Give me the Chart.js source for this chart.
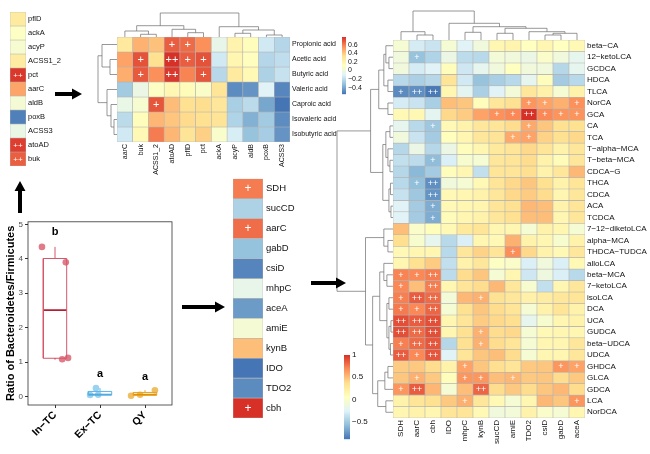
<!DOCTYPE html>
<html>
<head>
<meta charset="utf-8">
<script src="https://cdn.jsdelivr.net/npm/chart.js@4.4.1/dist/chart.umd.min.js"></script>
<style>
    body { margin: 0; width: 650px; height: 454px; position: relative; overflow: hidden; background: #fff; }
    canvas, svg { position: absolute; }
</style>
</head>
<body>
<canvas id="scfaGenes" width="80" height="190" style="left:0;top:0"></canvas>
<canvas id="scfaHeat" width="280" height="180" style="left:85px;top:5px"></canvas>
<canvas id="ratioBox" width="180" height="239" style="left:0;top:215px"></canvas>
<canvas id="baGenes" width="90" height="270" style="left:225px;top:170px"></canvas>
<canvas id="baHeat" width="320" height="454" style="left:330px;top:0"></canvas>
<svg id="arrows" width="650" height="454" style="left:0;top:0"></svg>
<script>

const FONT = '"Liberation Sans", Arial, sans-serif';

// ---- left column: SCFA genes
const SCFA_GENES = [ 'pflD', 'ackA', 'acyP', 'ACSS1_2', 'pct', 'aarC', 'aldB', 'poxB', 'ACSS3', 'atoAD', 'buk' ];
const SCFA_GENE_VALUES = [ 0.22, -0.03, -0.1, 0.2, 0.97, 0.57, -0.12, -0.95, -0.22, 0.95, 0.83 ];
const SCFA_GENE_SIG = [ [ 'pct', '', '++' ], [ 'atoAD', '', '++' ], [ 'buk', '', '++' ] ];

// ---- top heatmap: SCFA x genes
const ACIDS = [ 'Propionic acid', 'Acetic acid', 'Butyric acid', 'Valeric acid', 'Caproic acid', 'Isovaleric acid', 'Isobutyric acid' ];
const ACID_GENES = [ 'aarC', 'buk', 'ACSS1_2', 'atoAD', 'pflD', 'pct', 'ackA', 'acyP', 'aldB', 'poxB', 'ACSS3' ];
const ACID_CORR = [
    [ 0.27, 0.46, 0.42, 0.67, 0.64, 0.55, -0.05, 0.2, 0.13, -0.15, -0.23 ],
    [ 0.5, 0.7, 0.33, 0.78, 0.67, 0.7, -0.15, 0.18, 0.12, -0.23, -0.2 ],
    [ 0.47, 0.68, 0.55, 0.76, 0.58, 0.69, -0.22, 0.26, 0.16, -0.25, -0.18 ],
    [ -0.28, -0.03, 0.1, 0.17, 0.14, 0.08, 0.3, -0.48, -0.46, -0.1, -0.5 ],
    [ -0.04, 0.05, 0.69, 0.43, 0.33, 0.34, 0.29, -0.26, -0.21, -0.4, -0.55 ],
    [ -0.21, 0.13, 0.45, 0.41, 0.35, 0.33, 0.31, -0.24, -0.37, -0.28, -0.48 ],
    [ -0.15, 0.16, 0.6, 0.45, 0.31, 0.38, 0.07, -0.13, -0.31, -0.27, -0.46 ]
];
const ACID_SIG = [
    [ 'Propionic acid', 'atoAD', '+' ], [ 'Propionic acid', 'pflD', '+' ],
    [ 'Acetic acid', 'buk', '+' ], [ 'Acetic acid', 'atoAD', '++' ], [ 'Acetic acid', 'pflD', '+' ], [ 'Acetic acid', 'pct', '+' ],
    [ 'Butyric acid', 'buk', '+' ], [ 'Butyric acid', 'atoAD', '++' ], [ 'Butyric acid', 'pct', '+' ],
    [ 'Caproic acid', 'ACSS1_2', '+' ]
];
// trees: [ left, right, height ], leaves are indices
const ACID_ROW_TREE = [ [ 0, [ 1, 2, 7 ], 15 ], [ 3, [ 4, [ 5, 6, 3 ], 6 ], 10 ], 19 ];
const ACID_COL_TREE = [ [ [ 0, [ 1, 2, 2.7 ], 6 ], [ 3, [ 4, 5, 4.3 ], 7.7 ], 11.3 ], [ 6, [ [ 7, 8, 3.7 ], [ 9, 10, 2 ], 7 ], 10.3 ], 24 ];
const ACID_LEGEND_TICKS = [ 0.6, 0.4, 0.2, 0, -0.2, -0.4 ];

// ---- box plot
const GROUPS = [ 'In−TC', 'Ex−TC', 'QY' ];
const RATIO = [ [ 4.35, 3.9, 1.08, 1.12 ], [ 0.24, 0.04, 0.05 ], [ 0.02, 0.05, 0.18 ] ];
const RATIO_X = [ [ 0.71, 1.24, 1.16, 1.29 ], [ 1.91, 1.78, 1.96 ], [ 2.69, 2.89, 3.22 ] ];
const LETTERS = [ 'b', 'a', 'a' ];
const LETTER_Y = [ 4.77, 0.65, 0.56 ];
const RATIO_TICKS = [ 0, 1, 2, 3, 4, 5 ];

// ---- middle column: bile-acid genes
const BA_GENES_COL = [ 'SDH', 'sucCD', 'aarC', 'gabD', 'csiD', 'mhpC', 'aceA', 'amiE', 'kynB', 'IDO', 'TDO2', 'cbh' ];
const BA_GENE_VALUES = [ 0.73, -0.55, 0.78, -0.65, -0.93, -0.25, -0.83, -0.12, 0.47, -1, -0.9, 1 ];
const BA_GENE_SIG = [ [ 'SDH', '', '+' ], [ 'aarC', '', '+' ], [ 'cbh', '', '+' ] ];

// ---- right heatmap: bile acids x genes
const BILE_ACIDS = [ 'beta−CA', '12−ketoLCA', 'GCDCA', 'HDCA', 'TLCA', 'NorCA', 'GCA', 'CA', 'TCA', 'T−alpha−MCA',
    'T−beta−MCA', 'CDCA−G', 'THCA', 'CDCA', 'ACA', 'TCDCA', '7−12−diketoLCA', 'alpha−MCA', 'THDCA−TUDCA', 'alloLCA',
    'beta−MCA', '7−ketoLCA', 'isoLCA', 'DCA', 'UCA', 'GUDCA', 'beta−UDCA', 'UDCA', 'GHDCA', 'GLCA', 'GDCA', 'LCA', 'NorDCA' ];
const BA_GENES = [ 'SDH', 'aarC', 'cbh', 'IDO', 'mhpC', 'kynB', 'sucCD', 'amiE', 'TDO2', 'csiD', 'gabD', 'aceA' ];
const BA_CORR = [
    [ -0.05, -0.3, -0.35, -0.05, -0.25, -0.1, 0.15, 0.17, 0.05, 0.15, 0.05, 0.12 ],
    [ -0.1, -0.55, -0.45, -0.15, -0.4, -0.42, -0.08, -0.1, -0.15, 0, -0.1, -0.2 ],
    [ -0.1, -0.3, -0.25, 0.08, -0.33, -0.2, -0.1, 0.05, -0.1, -0.1, -0.43, -0.2 ],
    [ -0.42, -0.47, -0.43, 0.33, -0.32, -0.55, -0.48, -0.42, -0.2, 0.08, -0.5, -0.42 ],
    [ -0.8, -0.78, -0.87, 0.15, -0.22, -0.47, -0.25, -0.08, 0.3, 0.2, -0.05, 0.18 ],
    [ -0.3, -0.35, -0.48, 0.5, 0.47, 0.08, 0.3, 0.35, 0.65, 0.6, 0.55, 0.67 ],
    [ 0.12, 0.13, -0.22, 0.4, 0.45, 0.6, 0.67, 0.7, 1.0, 0.7, 0.66, 0.66 ],
    [ -0.2, -0.42, -0.52, 0.12, 0.18, 0.3, 0.32, 0.38, 0.58, 0.47, 0.36, 0.36 ],
    [ -0.1, -0.35, -0.5, 0.07, 0.15, 0.3, 0.33, 0.58, 0.6, 0.42, 0.36, 0.4 ],
    [ -0.43, -0.15, -0.43, -0.15, 0.08, 0.15, 0.28, 0.32, 0.4, 0.32, 0.18, 0.3 ],
    [ -0.38, -0.4, -0.58, -0.28, -0.03, -0.05, 0.3, 0.32, 0.38, 0.18, 0.1, 0.3 ],
    [ -0.43, -0.6, -0.5, 0.08, 0.15, -0.38, 0.32, 0.32, 0.37, 0.18, 0.3, 0.52 ],
    [ -0.42, -0.57, -0.78, -0.1, -0.05, 0.12, 0.32, 0.4, 0.47, 0.36, 0.18, 0.32 ],
    [ -0.36, -0.52, -0.76, 0.12, 0.15, 0.18, 0.3, 0.4, 0.45, 0.38, 0.15, 0.3 ],
    [ -0.25, -0.5, -0.65, 0.12, 0.15, 0.16, 0.32, 0.36, 0.52, 0.5, 0.18, 0.32 ],
    [ -0.25, -0.5, -0.65, 0.1, 0.15, 0.18, 0.3, 0.36, 0.5, 0.5, 0.15, 0.3 ],
    [ 0.5, 0, 0.08, 0.12, 0.28, 0.32, 0.15, 0.15, -0.05, 0.18, 0.15, -0.05 ],
    [ 0.37, -0.03, -0.2, -0.42, -0.28, 0.15, 0.12, 0.55, 0.18, 0.15, -0.03, 0.18 ],
    [ 0.12, 0.15, 0.15, -0.42, 0.3, 0.42, 0.32, 0.68, 0.4, 0.18, 0.12, 0.3 ],
    [ 0.15, 0.36, 0.45, -0.38, 0.18, 0.3, 0.03, 0, -0.28, -0.1, -0.28, 0.12 ],
    [ 0.72, 0.7, 0.74, -0.4, 0.38, 0.47, -0.05, 0.15, -0.33, -0.12, -0.28, -0.42 ],
    [ 0.7, 0.5, 0.74, 0.15, 0.32, 0.38, 0.52, 0.3, -0.03, -0.38, 0.15, 0.3 ],
    [ 0.73, 0.85, 0.8, -0.08, 0.52, 0.55, 0.35, 0.3, 0.2, 0.25, 0.3, 0.32 ],
    [ 0.75, 0.7, 0.82, -0.05, 0.36, 0.47, 0.38, 0.32, -0.05, 0.18, 0.32, 0.18 ],
    [ 0.9, 0.85, 0.9, 0.15, 0.32, 0.45, 0.4, 0.37, -0.2, -0.03, 0.15, 0.18 ],
    [ 0.9, 0.8, 0.9, 0.15, 0.36, 0.55, 0.38, 0.4, -0.05, 0.12, 0.15, 0.15 ],
    [ 0.73, 0.8, 0.87, -0.43, 0.36, 0.55, 0.38, 0.32, -0.05, 0.15, 0.15, 0.3 ],
    [ 0.85, 0.7, 0.87, -0.25, 0.32, 0.47, 0.5, 0.38, -0.05, 0.15, 0.15, 0.3 ],
    [ 0.45, 0.46, 0.38, 0.18, 0.6, 0.47, 0.37, 0.32, 0.46, 0.47, 0.65, 0.6 ],
    [ 0.47, 0.55, 0.46, 0.08, 0.65, 0.65, 0.5, 0.53, 0.46, 0.47, 0.38, 0.46 ],
    [ 0.65, 0.85, 0.53, -0.05, 0.5, 0.82, 0.38, 0.46, 0.38, 0.47, 0.52, 0.38 ],
    [ 0.18, 0.32, 0.36, 0.46, 0.55, 0.3, 0.12, -0.05, 0.15, 0.52, 0.47, 0.65 ],
    [ 0.15, 0.18, 0.15, 0.32, 0.32, 0.12, -0.1, -0.08, 0.18, 0, -0.05, 0.15 ]
];
const BA_SIG = [
    [ '12−ketoLCA', 'aarC', '+' ],
    [ 'TLCA', 'SDH', '+' ], [ 'TLCA', 'aarC', '++' ], [ 'TLCA', 'cbh', '++' ],
    [ 'NorCA', 'TDO2', '+' ], [ 'NorCA', 'csiD', '+' ], [ 'NorCA', 'aceA', '+' ],
    [ 'GCA', 'sucCD', '+' ], [ 'GCA', 'amiE', '+' ], [ 'GCA', 'TDO2', '++' ], [ 'GCA', 'csiD', '+' ], [ 'GCA', 'gabD', '+' ], [ 'GCA', 'aceA', '+' ],
    [ 'CA', 'cbh', '+' ], [ 'CA', 'TDO2', '+' ],
    [ 'TCA', 'amiE', '+' ], [ 'TCA', 'TDO2', '+' ],
    [ 'T−beta−MCA', 'cbh', '+' ],
    [ 'THCA', 'aarC', '+' ], [ 'THCA', 'cbh', '++' ],
    [ 'CDCA', 'cbh', '++' ], [ 'ACA', 'cbh', '+' ], [ 'TCDCA', 'cbh', '+' ],
    [ 'THDCA−TUDCA', 'amiE', '+' ],
    [ 'beta−MCA', 'SDH', '+' ], [ 'beta−MCA', 'aarC', '+' ], [ 'beta−MCA', 'cbh', '++' ],
    [ '7−ketoLCA', 'SDH', '+' ], [ '7−ketoLCA', 'cbh', '++' ],
    [ 'isoLCA', 'SDH', '+' ], [ 'isoLCA', 'aarC', '++' ], [ 'isoLCA', 'cbh', '++' ], [ 'isoLCA', 'kynB', '+' ],
    [ 'DCA', 'SDH', '+' ], [ 'DCA', 'aarC', '+' ], [ 'DCA', 'cbh', '++' ],
    [ 'UCA', 'SDH', '++' ], [ 'UCA', 'aarC', '++' ], [ 'UCA', 'cbh', '++' ],
    [ 'GUDCA', 'SDH', '++' ], [ 'GUDCA', 'aarC', '++' ], [ 'GUDCA', 'cbh', '++' ], [ 'GUDCA', 'kynB', '+' ],
    [ 'beta−UDCA', 'SDH', '+' ], [ 'beta−UDCA', 'aarC', '++' ], [ 'beta−UDCA', 'cbh', '++' ], [ 'beta−UDCA', 'kynB', '+' ],
    [ 'UDCA', 'SDH', '++' ], [ 'UDCA', 'aarC', '+' ], [ 'UDCA', 'cbh', '++' ],
    [ 'GHDCA', 'mhpC', '+' ], [ 'GHDCA', 'gabD', '+' ], [ 'GHDCA', 'aceA', '+' ],
    [ 'GLCA', 'aarC', '+' ], [ 'GLCA', 'mhpC', '+' ], [ 'GLCA', 'kynB', '+' ], [ 'GLCA', 'amiE', '+' ],
    [ 'GDCA', 'SDH', '+' ], [ 'GDCA', 'aarC', '++' ], [ 'GDCA', 'kynB', '++' ],
    [ 'LCA', 'mhpC', '+' ], [ 'LCA', 'aceA', '+' ]
];
const BA_COL_TREE = [ [ 0, [ 1, 2, 5 ], 8.3 ],
    [ 3, [ [ 4, 5, 7.7 ], [ [ 6, 7, 6.7 ], [ 8, [ [ 9, 10, 5 ], 11, 6.7 ], 8.3 ], 11.7 ], 13.3 ], 16.7 ], 29 ];
const BA_ROW_TREE = [
    [ [ [ [ 0, [ 1, 2, 4 ], 7 ], [ 3, 4, 5 ], 9 ], [ 5, 6, 5 ], 14 ],
      [ [ [ 7, 8, 3 ], [ 9, [ 10, 11, 3 ], 5 ], 7 ], [ [ 12, 13, 2.5 ], [ 14, 15, 2 ], 4 ], 10 ], 22 ],
    [ [ 16, [ 17, 18, 5 ], 9 ],
      [ [ [ 19, [ 20, 21, 6 ], 9 ], [ [ 22, 23, 4 ], [ [ 24, 25, 2 ], [ 26, 27, 2.5 ], 4 ], 6 ], 13 ],
        [ [ [ 28, 29, 5 ], 30, 8 ], [ 31, 32, 7 ], 15 ], 20 ], 27 ],
    55 ];
const BA_LEGEND_TICKS = [ 1, 0.5, 0, -0.5 ];

const PALETTE = [ '#4575b4', '#91bfdb', '#e0f3f8', '#ffffbf', '#fee090', '#fc8d59', '#d73027' ];

/**
 * Maps a value onto the reversed RdYlBu ramp between lo and hi.
 */
function heatColor ( v, lo, hi ) {

    let t = Math.max( 0, Math.min( 1, ( v - lo ) / ( hi - lo ) ) ) * ( PALETTE.length - 1 );
    const i = Math.min( Math.floor( t ), PALETTE.length - 2 ), f = t - i;
    const rgb = h => [ 1, 3, 5 ].map( k => parseInt( h.substr( k, 2 ), 16 ) );
    const a = rgb( PALETTE[ i ] ), b = rgb( PALETTE[ i + 1 ] );

    return `rgb(${ a.map( ( c, k ) => Math.round( c + ( b[ k ] - c ) * f ) ).join( ',' ) })`;

}

/**
 * Draws a dendrogram recursively, returns the node position and height.
 */
function drawTree ( ctx, node, leafPos, hPx, alongX ) {

    if ( typeof node === 'number' ) return { pos: leafPos( node ), h: 0 };

    const a = drawTree( ctx, node[ 0 ], leafPos, hPx, alongX ),
          b = drawTree( ctx, node[ 1 ], leafPos, hPx, alongX ),
          h = node[ 2 ];

    const pt = ( p, hh ) => alongX ? [ p, hPx( hh ) ] : [ hPx( hh ), p ];

    ctx.beginPath();
    ctx.moveTo( ...pt( a.pos, a.h ) );
    ctx.lineTo( ...pt( a.pos, h ) );
    ctx.lineTo( ...pt( b.pos, h ) );
    ctx.lineTo( ...pt( b.pos, b.h ) );
    ctx.stroke();

    return { pos: ( a.pos + b.pos ) / 2, h };

}

// Significance marks, dendrograms and colour key
const heatExtras = {
    id: 'heatExtras',
    afterDatasetsDraw ( chart, args, o ) {

        const { ctx, chartArea: area, scales: { x, y } } = chart;

        ctx.save();

        ctx.fillStyle = '#fff';
        ctx.font = o.signFont;
        ctx.textAlign = 'center';
        ctx.textBaseline = 'middle';

        o.sig.forEach( ( [ r, c, s ] ) => {
            const i = o.rows.indexOf( r ), j = o.cols.indexOf( c );
            ctx.fillText( s, x.getPixelForValue( j ), y.getPixelForValue( i + 0.5 ) + 0.5 );
        } );

        ctx.strokeStyle = '#6b6b6b';
        ctx.lineWidth = 0.7;

        if ( o.colTree ) {
            const k = o.colTreeSize / o.colTree[ 2 ];
            drawTree( ctx, o.colTree, j => x.getPixelForValue( j ), h => area.top - h * k, true );
        }

        if ( o.rowTree ) {
            const k = o.rowTreeSize / o.rowTree[ 2 ];
            drawTree( ctx, o.rowTree, i => y.getPixelForValue( i + 0.5 ), h => area.left - h * k, false );
        }

        if ( o.legend ) {

            const L = o.legend;

            for ( let k = 0; k < L.h; k++ )
            {
                ctx.fillStyle = heatColor( L.hi - ( k + 0.5 ) / L.h * ( L.hi - L.lo ), L.lo, L.hi );
                ctx.fillRect( L.x, L.y + k, L.w, 1.2 );
            }

            ctx.fillStyle = '#111';
            ctx.font = L.font;
            ctx.textAlign = 'left';

            L.ticks.forEach( v => ctx.fillText(
                String( v ).replace( '-', '−' ),
                L.x + L.w + 2,
                L.y + ( L.hi - v ) / ( L.hi - L.lo ) * L.h
            ) );

        }

        ctx.restore();

    }
};

/**
 * Renders a heatmap as floating bars, one dataset per row.
 */
function renderHeatmap ( id, o ) {

    const canvas = document.getElementById( id ),
          W = canvas.width, H = canvas.height,
          n = o.rows.length;

    return new Chart( canvas, {
        type: 'bar',
        data: {
            labels: o.cols,
            datasets: o.rows.map( ( r, i ) => ( {
                label: r,
                data: o.values[ i ].map( () => [ i, i + 1 ] ),
                backgroundColor: o.values[ i ].map( v => heatColor( v, o.lo, o.hi ) ),
                borderColor: '#b4b4b4',
                borderWidth: 0.6,
                borderSkipped: false,
                grouped: false,
                barPercentage: 1,
                categoryPercentage: 1
            } ) )
        },
        options: {
            responsive: false,
            animation: false,
            events: [],
            layout: { padding: {
                left: o.area.left, top: o.area.top, right: 0,
                bottom: o.colFont ? 0 : H - o.area.bottom
            } },
            plugins: {
                legend: { display: false },
                tooltip: { enabled: false },
                heatExtras: { ...o }
            },
            scales: {
                x: {
                    display: !! o.colFont,
                    grid: { display: false, drawTicks: false },
                    border: { display: false },
                    ticks: {
                        autoSkip: false, maxRotation: 90, minRotation: 90, padding: 2,
                        color: '#111', font: o.colFont
                    },
                    afterFit: s => { s.height = H - o.area.bottom; }
                },
                y: {
                    position: 'right',
                    reverse: true,
                    min: 0,
                    max: n,
                    grid: { display: false, drawTicks: false },
                    border: { display: false },
                    afterBuildTicks: s => { s.ticks = o.rows.map( ( _, i ) => ( { value: i + 0.5 } ) ); },
                    ticks: {
                        autoSkip: false, padding: o.rowPad || 2, color: '#111', font: o.rowFont,
                        callback: v => o.rows[ Math.floor( v ) ]
                    },
                    afterFit: s => { s.width = W - o.area.right; }
                }
            }
        },
        plugins: [ heatExtras ]
    } );

}

/**
 * Quantile (type 7, as in R).
 */
function quantile ( arr, p ) {

    const s = [ ...arr ].sort( ( a, b ) => a - b ),
          h = ( s.length - 1 ) * p, i = Math.floor( h );

    return s[ i ] + ( ( s[ i + 1 ] ?? s[ i ] ) - s[ i ] ) * ( h - i );

}

// ---- heatmaps

renderHeatmap( 'scfaGenes', {
    rows: SCFA_GENES, cols: [ '' ], values: SCFA_GENE_VALUES.map( v => [ v ] ),
    sig: SCFA_GENE_SIG, lo: -1, hi: 1,
    area: { left: 10, top: 12, right: 26, bottom: 178 },
    rowFont: { family: FONT, size: 7.5 }, signFont: `8px ${FONT}`
} );

renderHeatmap( 'scfaHeat', {
    rows: ACIDS, cols: ACID_GENES, values: ACID_CORR, sig: ACID_SIG, lo: -0.55, hi: 0.78,
    area: { left: 32, top: 32, right: 205, bottom: 137 },
    rowFont: { family: FONT, size: 7 }, colFont: { family: FONT, size: 7 }, signFont: `11px ${FONT}`,
    rowTree: ACID_ROW_TREE, rowTreeSize: 19, colTree: ACID_COL_TREE, colTreeSize: 24,
    legend: { x: 257, y: 32, w: 4, h: 57, lo: -0.55, hi: 0.78, ticks: ACID_LEGEND_TICKS, font: `7px ${FONT}` }
} );

renderHeatmap( 'baGenes', {
    rows: BA_GENES_COL, cols: [ '' ], values: BA_GENE_VALUES.map( v => [ v ] ),
    sig: BA_GENE_SIG, lo: -1, hi: 1,
    area: { left: 8, top: 7, right: 38, bottom: 259 },
    rowFont: { family: FONT, size: 9.5 }, rowPad: 3, signFont: `12px ${FONT}`
} );

renderHeatmap( 'baHeat', {
    rows: BILE_ACIDS, cols: BA_GENES, values: BA_CORR, sig: BA_SIG, lo: -0.89, hi: 1,
    area: { left: 63, top: 40, right: 255, bottom: 418 },
    rowFont: { family: FONT, size: 8 }, colFont: { family: FONT, size: 8 }, signFont: `9px ${FONT}`,
    rowTree: BA_ROW_TREE, rowTreeSize: 56, colTree: BA_COL_TREE, colTreeSize: 29,
    legend: { x: 14, y: 355, w: 6, h: 84, lo: -0.89, hi: 1, ticks: BA_LEGEND_TICKS, font: `8px ${FONT}` }
} );

// ---- box plot

const GROUP_LINE = [ '#d4576a', '#5ab4e6', '#e8a21e' ];
const GROUP_MEDIAN = [ '#b51f35', '#3d9bd6', '#d88d00' ];
const GROUP_POINT = [ 'rgba(214,80,98,0.75)', 'rgba(90,180,230,0.6)', 'rgba(232,162,30,0.7)' ];
const BOX_HW = 0.26;

const boxDatasets = [];

RATIO.forEach( ( vals, g ) => {

    const cx = g + 1,
          q1 = quantile( vals, 0.25 ), med = quantile( vals, 0.5 ), q3 = quantile( vals, 0.75 ),
          lo = Math.min( ...vals ), hi = Math.max( ...vals );
    const line = ( data, color, w ) => ( {
        type: 'line', data, borderColor: color, borderWidth: w,
        pointRadius: 0, fill: false, tension: 0
    } );

    boxDatasets.push( line( [ { x: cx, y: q3 }, { x: cx, y: hi } ], GROUP_LINE[ g ], 1 ) );
    boxDatasets.push( line( [ { x: cx, y: q1 }, { x: cx, y: lo } ], GROUP_LINE[ g ], 1 ) );
    boxDatasets.push( line( [
        { x: cx - BOX_HW, y: q1 }, { x: cx + BOX_HW, y: q1 }, { x: cx + BOX_HW, y: q3 },
        { x: cx - BOX_HW, y: q3 }, { x: cx - BOX_HW, y: q1 }
    ], GROUP_LINE[ g ], 1 ) );
    boxDatasets.push( line( [ { x: cx - BOX_HW, y: med }, { x: cx + BOX_HW, y: med } ], GROUP_MEDIAN[ g ], 1.8 ) );
    boxDatasets.push( {
        type: 'scatter',
        data: vals.map( ( v, k ) => ( { x: RATIO_X[ g ][ k ], y: v } ) ),
        backgroundColor: GROUP_POINT[ g ], borderWidth: 0, pointRadius: 3.3
    } );

} );

const boxExtras = {
    id: 'boxExtras',
    afterDatasetsDraw ( chart ) {

        const { ctx, chartArea: a, scales: { x, y } } = chart;

        ctx.save();
        ctx.strokeStyle = '#333';
        ctx.lineWidth = 0.8;
        ctx.strokeRect( a.left, a.top, a.right - a.left, a.bottom - a.top );

        ctx.fillStyle = '#000';
        ctx.font = `bold 11px ${FONT}`;
        ctx.textAlign = 'center';
        ctx.textBaseline = 'middle';
        LETTERS.forEach( ( l, i ) => ctx.fillText( l, x.getPixelForValue( i + 1 ), y.getPixelForValue( LETTER_Y[ i ] ) ) );
        ctx.restore();

    }
};

new Chart( document.getElementById( 'ratioBox' ), {
    type: 'scatter',
    data: { datasets: boxDatasets },
    options: {
        responsive: false,
        animation: false,
        events: [],
        layout: { padding: { left: 0, top: 2, right: 8, bottom: 0 } },
        plugins: { legend: { display: false }, tooltip: { enabled: false } },
        scales: {
            x: {
                type: 'linear', min: 0.4, max: 3.6,
                grid: { drawOnChartArea: false, tickLength: 3, color: '#333' },
                border: { display: false },
                afterBuildTicks: s => { s.ticks = GROUPS.map( ( _, i ) => ( { value: i + 1 } ) ); },
                ticks: {
                    maxRotation: 45, minRotation: 45, padding: 1, color: '#000',
                    font: { family: FONT, size: 10.5, weight: 'bold' },
                    callback: v => GROUPS[ v - 1 ]
                },
                afterFit: s => { s.height = 49; }
            },
            y: {
                min: -0.25, max: 5.08,
                grid: { drawOnChartArea: false, tickLength: 3, color: '#333' },
                border: { display: false },
                afterBuildTicks: s => { s.ticks = RATIO_TICKS.map( v => ( { value: v } ) ); },
                ticks: { padding: 2, color: '#4d4d4d', font: { family: FONT, size: 8 } },
                title: {
                    display: true, text: 'Ratio of Bacteroidetes/Firmicutes', color: '#000',
                    font: { family: FONT, size: 11, weight: 'bold' }, padding: { top: 4, bottom: 2 }
                },
                afterFit: s => { s.width = 28; }
            }
        }
    },
    plugins: [ boxExtras ]
} );

// ---- arrows between panels
const ARROWS = [ [ 55, 94, 82, 94 ], [ 20, 213, 20, 181 ], [ 182, 307, 225, 307 ], [ 311, 283, 346, 283 ] ];

const svg = document.getElementById( 'arrows' );

ARROWS.forEach( ( [ x1, y1, x2, y2 ] ) => {

    const len = Math.hypot( x2 - x1, y2 - y1 ),
          dx = ( x2 - x1 ) / len, dy = ( y2 - y1 ) / len,
          nx = -dy, ny = dx, sw = 2, hw = 5.5, hl = 10;
    const bx = x2 - dx * hl, by = y2 - dy * hl;
    const pts = [
        [ x1 + nx * sw, y1 + ny * sw ], [ bx + nx * sw, by + ny * sw ], [ bx + nx * hw, by + ny * hw ],
        [ x2, y2 ],
        [ bx - nx * hw, by - ny * hw ], [ bx - nx * sw, by - ny * sw ], [ x1 - nx * sw, y1 - ny * sw ]
    ];
    const p = document.createElementNS( 'http://www.w3.org/2000/svg', 'polygon' );

    p.setAttribute( 'points', pts.map( q => q.join( ',' ) ).join( ' ' ) );
    p.setAttribute( 'fill', '#000' );
    svg.appendChild( p );

} );

</script>
</body>
</html>
